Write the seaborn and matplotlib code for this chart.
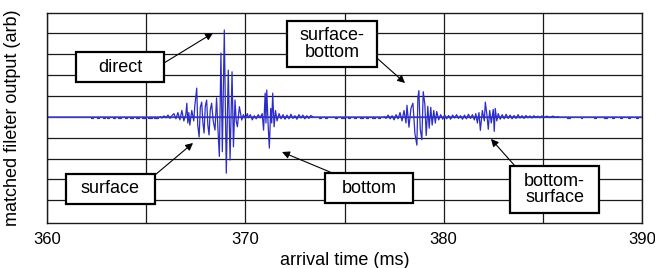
import numpy as np
import pandas as pd
import matplotlib
matplotlib.use("Agg")
import matplotlib.pyplot as plt
from matplotlib.patches import Rectangle
import seaborn as sns

# ---------------- data ----------------
# continuous trace: direct / surface / bottom arrivals
seg1_t = [365.70, 365.80, 365.90, 366.00, 366.10, 366.20, 366.30, 366.40, 366.50, 366.60,
          366.70, 366.80, 366.90, 367.00, 367.05, 367.10, 367.15, 367.20, 367.30, 367.40,
          367.45, 367.55, 367.60, 367.67, 367.73, 367.80, 367.86, 367.92, 367.98, 368.05,
          368.11, 368.17, 368.23, 368.30, 368.38, 368.47, 368.55, 368.62, 368.69, 368.77,
          368.84, 368.94, 369.04, 369.14, 369.23, 369.33, 369.40, 369.48, 369.54, 369.60,
          369.70, 369.82, 369.90, 370.00, 370.10, 370.15, 370.25, 370.35, 370.45, 370.55,
          370.65, 370.75, 370.85, 370.92, 371.00, 371.04, 371.08, 371.15, 371.21, 371.28,
          371.33, 371.38, 371.45, 371.52, 371.60, 371.70, 371.80, 371.90, 372.00, 372.10,
          372.20, 372.30, 372.40, 372.50, 372.60, 372.70, 372.80, 372.90, 373.00, 373.10,
          373.20, 373.30, 373.40]
seg1_v = [0.00, -0.06, 0.04, -0.05, 0.08, -0.08, 0.05, 0.15, -0.10, 0.20,
          -0.15, 0.30, -0.20, 0.10, 0.65, -0.30, 0.20, -0.40, 0.30, -0.20,
          0.50, 1.37, -0.40, -0.97, 0.45, 0.70, -0.30, -0.78, 0.50, 0.80,
          -0.40, -0.87, 0.30, 0.65, -0.20, -0.64, 0.90, -0.60, -1.90, 3.05,
          -1.67, 4.15, -2.70, 2.23, -2.07, 2.15, -1.44, 0.80, -0.20, -0.48,
          0.48, -0.16, 0.10, -0.10, 0.15, -0.05, 0.10, -0.15, 0.05, -0.10,
          0.10, -0.05, 0.15, -0.64, 1.13, -0.30, 1.28, -0.40, -1.50, 0.40,
          -0.30, 1.13, -0.48, 0.30, -0.20, 0.15, -0.10, 0.10, -0.12, 0.08,
          -0.10, 0.12, -0.08, 0.05, -0.12, 0.10, -0.06, 0.08, -0.10, 0.05,
          -0.08, 0.06, 0.00]

# continuous trace: surface-bottom / bottom-surface arrivals
seg2_t = [377.00, 377.10, 377.20, 377.30, 377.40, 377.50, 377.60, 377.70, 377.80, 377.90,
          378.00, 378.10, 378.15, 378.25, 378.35, 378.45, 378.55, 378.65, 378.70, 378.75,
          378.82, 378.90, 378.97, 379.05, 379.12, 379.20, 379.27, 379.35, 379.42, 379.50,
          379.58, 379.65, 379.75, 379.85, 379.95, 380.05, 380.15, 380.25, 380.35, 380.45,
          380.55, 380.65, 380.75, 380.85, 380.95, 381.05, 381.15, 381.25, 381.35, 381.45,
          381.55, 381.62, 381.70, 381.78, 381.85, 381.95, 382.05, 382.10, 382.18, 382.25,
          382.32, 382.40, 382.50, 382.55, 382.60, 382.68, 382.75, 382.85, 382.95, 383.05,
          383.15, 383.25, 383.35, 383.45, 383.55, 383.65, 383.75, 383.85, 383.95, 384.05,
          384.15, 384.25, 384.35, 384.45, 384.55, 384.65, 384.75, 384.85, 384.95, 385.05,
          385.20, 385.35, 385.50, 385.65, 385.80]
seg2_v = [0.00, -0.08, 0.08, -0.10, 0.05, -0.15, 0.10, -0.10, 0.20, -0.20,
          0.30, -0.30, 0.55, -0.50, 0.40, 0.65, -0.80, -1.36, 0.90, 1.25,
          -0.60, -1.10, 1.20, 0.60, -0.90, 0.50, -0.55, 0.45, -0.40, 0.30,
          -0.30, 0.25, -0.15, 0.10, -0.12, 0.08, -0.10, 0.06, -0.12, 0.08,
          -0.06, 0.10, -0.08, 0.05, -0.12, 0.08, -0.10, 0.12, -0.08, 0.10,
          -0.15, 0.15, -0.30, 0.20, -0.65, 0.30, -0.20, 0.70, 0.10, -0.60,
          0.30, -0.30, 0.35, -0.70, 0.40, -0.20, 0.15, -0.12, 0.10, -0.10,
          0.12, -0.08, 0.08, -0.10, 0.06, -0.08, 0.10, -0.06, 0.05, -0.08,
          0.06, -0.05, 0.04, -0.06, 0.05, -0.04, 0.03, -0.05, 0.04, -0.03,
          0.03, -0.04, 0.03, -0.03, 0.00]

# isolated low-level fragments along the baseline
dash_t0 = [362.20, 362.50, 362.80, 363.05, 363.35, 363.60, 363.95, 364.20, 364.50, 364.80,
           365.10, 365.40, 373.70, 374.00, 374.50, 374.80, 375.20, 375.50, 375.80, 376.10,
           376.40, 376.70, 386.20, 386.90, 387.60, 388.10, 388.50, 388.90, 389.30, 389.70]
dash_t1 = [362.30, 362.60, 362.90, 363.15, 363.45, 363.75, 364.05, 364.35, 364.65, 365.00,
           365.30, 365.60, 373.80, 374.10, 374.60, 374.95, 375.30, 375.60, 375.95, 376.20,
           376.55, 376.80, 386.35, 387.00, 387.70, 388.25, 388.60, 389.00, 389.40, 389.80]
dash_v = -0.04

x_ticks = [360, 365, 370, 375, 380, 385, 390]
x_tick_labels = ["360", "", "370", "", "380", "", "390"]
y_grid = [-4, -3, -2, -1, 0, 1, 2, 3, 4]

labels = ["direct", "surface", "surface-\nbottom", "bottom", "bottom-\nsurface"]

# ---------------- build table ----------------
rows = []
for t, v in zip(seg1_t, seg1_v):
    rows.append((t, v, "s1"))
for t, v in zip(seg2_t, seg2_v):
    rows.append((t, v, "s2"))
for i, (a, b) in enumerate(zip(dash_t0, dash_t1)):
    rows.append((a, dash_v, f"d{i}"))
    rows.append((b, dash_v, f"d{i}"))
df = pd.DataFrame(rows, columns=["t", "v", "seg"])

# ---------------- plot ----------------
sns.set_style("white")
plt.rcParams["font.family"] = ["Liberation Sans", "DejaVu Sans"]
plt.rcParams["text.color"] = "black"
plt.rcParams["axes.labelcolor"] = "black"
plt.rcParams["xtick.color"] = "black"
plt.rcParams["ytick.color"] = "black"

fig = plt.figure(figsize=(6.55, 2.68), dpi=100)
ax = fig.add_axes([47 / 655, 1 - 222.7 / 268, 595 / 655, 209.4 / 268])

ax.axhline(0, color="#4a4ad8", lw=1.1, zorder=2)
sns.lineplot(data=df, x="t", y="v", units="seg", estimator=None, sort=False,
             color="#2c2cc8", lw=0.9, ax=ax, zorder=3, legend=False)

ax.set_xlim(360, 390)
ax.set_ylim(-5.07, 4.95)
ax.set_xticks(x_ticks)
ax.set_xticklabels(x_tick_labels)
ax.set_yticks(y_grid)
ax.set_yticklabels([])
ax.grid(True, color="#1a1a1a", lw=0.9)
ax.tick_params(axis="both", length=0, labelsize=12, pad=7, colors="black")
for s in ax.spines.values():
    s.set_color("#1a1a1a")
    s.set_linewidth(1.0)
ax.set_xlabel("arrival time (ms)", fontsize=13, labelpad=3, color="black")
ax.set_ylabel("matched fileter output (arb)", fontsize=13, labelpad=12, color="black")

# annotation boxes in axes-fraction coordinates: (x0, y0, x1, y1)
boxes = [
    (0.0487, 0.6719, 0.1966, 0.8152),
    (0.0319, 0.0893, 0.1815, 0.2326),
    (0.4034, 0.7436, 0.5546, 0.9632),
    (0.4672, 0.0941, 0.6151, 0.2373),
    (0.7782, 0.0463, 0.9277, 0.2708),
]
arrows = [
    ((0.1966, 0.7626), (0.2790, 0.9059)),
    ((0.1815, 0.2278), (0.2454, 0.3806)),
    ((0.5563, 0.7818), (0.6017, 0.6671)),
    ((0.4756, 0.2421), (0.3950, 0.3376)),
    ((0.7866, 0.2708), (0.7462, 0.3998)),
]
for lab, (x0, y0, x1, y1), (p0, p1) in zip(labels, boxes, arrows):
    ax.add_patch(Rectangle((x0, y0), x1 - x0, y1 - y0, transform=ax.transAxes,
                           facecolor="white", edgecolor="black", lw=1.6, zorder=5))
    ax.text((x0 + x1) / 2, (y0 + y1) / 2, lab, transform=ax.transAxes,
            ha="center", va="center", fontsize=13, linespacing=0.95, zorder=6,
            color="black")
    ax.annotate("", xy=p1, xytext=p0, xycoords="axes fraction", textcoords="axes fraction",
                arrowprops=dict(arrowstyle="-|>", color="black", lw=0.8,
                                mutation_scale=11, shrinkA=0, shrinkB=0), zorder=6)

fig.savefig("out.png", dpi=100)
